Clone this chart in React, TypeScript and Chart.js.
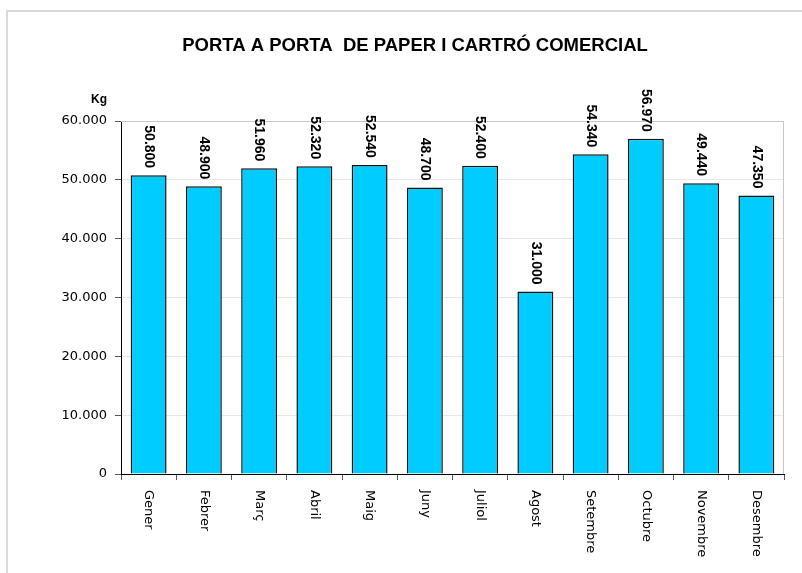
import React, { useEffect, useRef } from "react";
import { Chart, registerables } from "chart.js";

Chart.register(...registerables);

const months = ["Gener", "Febrer", "Març", "Abril", "Maig", "Juny", "Juliol", "Agost", "Setembre", "Octubre", "Novembre", "Desembre"];
const kgValues = [50800, 48900, 51960, 52320, 52540, 48700, 52400, 31000, 54340, 56970, 49440, 47350];
const yTicks = [0, 10000, 20000, 30000, 40000, 50000, 60000];
const titleText = "PORTA A PORTA  DE PAPER I CARTRÓ COMERCIAL";
const unitText = "Kg";

const fmt = (v: number) => String(Math.round(v)).replace(/\B(?=(\d{3})+(?!\d))/g, ".");

const decor = {
  id: "decor",
  afterDraw(chart: any) {
    const ctx = chart.ctx as CanvasRenderingContext2D;
    const area = chart.chartArea;
    const xs = chart.scales.x;
    const meta = chart.getDatasetMeta(0);
    ctx.save();
    // outer border
    ctx.strokeStyle = "#d9d9d9";
    ctx.lineWidth = 2;
    ctx.beginPath();
    ctx.moveTo(7, 573);
    ctx.lineTo(7, 11);
    ctx.lineTo(802, 11);
    ctx.stroke();
    // plot area top/right border
    ctx.strokeStyle = "#c8c8c8";
    ctx.lineWidth = 1;
    ctx.beginPath();
    ctx.moveTo(area.left, area.top + 0.5);
    ctx.lineTo(area.right - 0.5, area.top + 0.5);
    ctx.lineTo(area.right - 0.5, area.bottom);
    ctx.stroke();
    // title
    ctx.fillStyle = "#000";
    ctx.font = "bold 18.5px 'Liberation Sans', Arial, sans-serif";
    ctx.textAlign = "center";
    ctx.textBaseline = "alphabetic";
    ctx.fillText(titleText, 415, 51);
    // unit
    ctx.font = "bold 12px 'Liberation Sans', Arial, sans-serif";
    ctx.textAlign = "right";
    ctx.fillText(unitText, 107, 103);
    // x labels rotated clockwise
    ctx.font = "13px 'DejaVu Sans', sans-serif";
    ctx.textAlign = "left";
    ctx.textBaseline = "middle";
    months.forEach((m, i) => {
      const x = xs.getPixelForValue(i);
      ctx.save();
      ctx.translate(x, area.bottom + 16);
      ctx.rotate(Math.PI / 2);
      ctx.fillText(m, 0, 0);
      ctx.restore();
    });
    // data labels
    ctx.font = "bold 14px 'Liberation Sans', Arial, sans-serif";
    ctx.textAlign = "right";
    ctx.textBaseline = "middle";
    meta.data.forEach((bar: any, i: number) => {
      ctx.save();
      ctx.translate(bar.x, bar.y - 7);
      ctx.rotate(Math.PI / 2);
      ctx.fillText(fmt(kgValues[i]), 0, 0);
      ctx.restore();
    });
    ctx.restore();
  },
};

export default function App() {
  const ref = useRef<HTMLCanvasElement | null>(null);
  useEffect(() => {
    if (!ref.current) return;
    const chart = new Chart(ref.current, {
      type: "bar",
      data: {
        labels: months,
        datasets: [
          {
            data: kgValues,
            backgroundColor: "#00CCFF",
            borderColor: "#111111",
            borderWidth: 1.5,
            categoryPercentage: 1,
            barPercentage: 0.65,
          },
        ],
      },
      options: {
        responsive: false,
        animation: false,
        layout: { padding: { left: 0, top: 121, right: 18, bottom: 0 } },
        plugins: { legend: { display: false }, title: { display: false }, tooltip: { enabled: false } },
        scales: {
          x: {
            afterFit: (s: any) => {
              s.height = 99;
            },
            ticks: { display: false },
            grid: { offset: true, drawOnChartArea: false, drawTicks: true, tickLength: 6, tickColor: "#555" },
            border: { display: true, color: "#000", width: 1 },
          },
          y: {
            min: 0,
            max: 60000,
            afterFit: (s: any) => {
              s.width = 121;
            },
            afterBuildTicks: (s: any) => {
              s.ticks = yTicks.map((v) => ({ value: v }));
            },
            ticks: {
              color: "#000",
              padding: 8,
              font: { family: "'DejaVu Sans', sans-serif", size: 13 },
              callback: (v: any) => fmt(Number(v)),
            },
            grid: { color: "#e8e8e8", tickColor: "#555", tickLength: 6 },
            border: { display: true, color: "#000", width: 1 },
          },
        },
      },
      plugins: [decor],
    } as any);
    return () => chart.destroy();
  }, []);
  return (
    <div style={{ position: "fixed", left: 0, top: 0, width: 802, height: 573, background: "#fff" }}>
      <canvas ref={ref} width={802} height={573} style={{ width: 802, height: 573 }} />
    </div>
  );
}
